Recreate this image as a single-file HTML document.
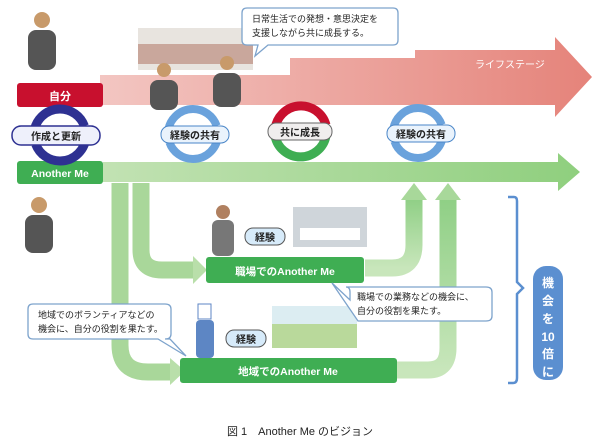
<!DOCTYPE html>
<html><head><meta charset="utf-8"><style>
html,body{margin:0;padding:0;background:#fff;}
svg{display:block;font-family:"Liberation Sans","Noto Sans CJK JP",sans-serif;}
</style></head><body>
<svg width="600" height="446" viewBox="0 0 600 446" xmlns="http://www.w3.org/2000/svg">
<defs>
<linearGradient id="pk" x1="0" x2="1"><stop offset="0" stop-color="#f3c6c2"/><stop offset="1" stop-color="#e5837a"/></linearGradient>
<linearGradient id="gr" x1="0" x2="1"><stop offset="0" stop-color="#c2e2b3"/><stop offset="1" stop-color="#8fcf7e"/></linearGradient>
<linearGradient id="gv" x1="0" x2="0" y1="0" y2="1"><stop offset="0" stop-color="#8fcf85"/><stop offset="1" stop-color="#c8e6bb"/></linearGradient>
</defs>
<polygon points="100,75 290,75 290,58 415,58 415,50 555,50 555,37 592,77 555,117 555,105 100,105" fill="url(#pk)"/>
<text x="475" y="68" fill="#fff" font-size="10">ライフステージ</text>
<rect x="138" y="28" width="115" height="42" fill="#e8e4df"/>
<rect x="138" y="44" width="115" height="20" fill="#c9a79c"/>
<polygon points="103,162 558,162 558,153 580,172 558,191 558,182 103,182" fill="url(#gr)"/>
<path d="M120,183 V345 Q120,372 148,372 H172" fill="none" stroke="#a9d79a" stroke-width="17"/>
<polygon points="170,358 185,371 170,385" fill="#b9dfaa"/>
<path d="M141,183 V250 Q141,270 162,270 H196" fill="none" stroke="#a9d79a" stroke-width="17"/>
<polygon points="193,256 207,270 193,284" fill="#b9dfaa"/>
<path d="M365,268 H392 Q414,268 414,245 V198" fill="none" stroke="url(#gv)" stroke-width="17"/>
<polygon points="401,200 414,183 427,200" fill="#a8d89a"/>
<path d="M397,370 H428 Q448,370 448,348 V198" fill="none" stroke="url(#gv)" stroke-width="17"/>
<polygon points="435,200 448,183 461,200" fill="#a8d89a"/>
<rect x="17" y="83" width="86" height="24" rx="3" fill="#c8102e"/>
<text x="60" y="100" fill="#fff" font-size="11" font-weight="bold" text-anchor="middle">自分</text>
<rect x="17" y="161" width="86" height="23" rx="3" fill="#3fae53"/>
<text x="60" y="177" fill="#fff" font-size="10.5" font-weight="bold" text-anchor="middle">Another Me</text>
<rect x="206" y="257" width="158" height="26" rx="3" fill="#3fae53"/>
<text x="285" y="275" fill="#fff" font-size="10.5" font-weight="bold" text-anchor="middle">職場でのAnother Me</text>
<rect x="180" y="358" width="217" height="25" rx="3" fill="#3fae53"/>
<text x="288" y="375" fill="#fff" font-size="10.5" font-weight="bold" text-anchor="middle">地域でのAnother Me</text>
<circle cx="60" cy="135" r="26" fill="none" stroke="#2e3192" stroke-width="9" stroke-dasharray="72 10"/>
<rect x="12" y="126" width="88" height="19" rx="9" fill="#eef0fb" stroke="#2e3192" stroke-width="1.5"/>
<text x="56" y="140" font-size="10" font-weight="bold" text-anchor="middle" fill="#222">作成と更新</text>
<circle cx="193" cy="134" r="25" fill="none" stroke="#6aa2dc" stroke-width="8" stroke-dasharray="70 8.5"/>
<rect x="161" y="126" width="68" height="17" rx="8" fill="#eaf3fc" stroke="#4a86c8" stroke-width="1"/>
<text x="195" y="139" font-size="10" font-weight="bold" text-anchor="middle" fill="#222">経験の共有</text>
<path d="M275,130 A26,26 0 0 1 326,125" fill="none" stroke="#c8102e" stroke-width="9"/>
<path d="M326,136 A26,26 0 0 1 275,136" fill="none" stroke="#3fae53" stroke-width="9"/>
<rect x="268" y="123" width="64" height="17" rx="8" fill="#f0eeee" stroke="#666" stroke-width="1"/>
<text x="300" y="136" font-size="10" font-weight="bold" text-anchor="middle" fill="#222">共に成長</text>
<circle cx="418" cy="133" r="25" fill="none" stroke="#6aa2dc" stroke-width="8" stroke-dasharray="70 8.5"/>
<rect x="387" y="125" width="68" height="17" rx="8" fill="#eaf3fc" stroke="#4a86c8" stroke-width="1"/>
<text x="421" y="138" font-size="10" font-weight="bold" text-anchor="middle" fill="#222">経験の共有</text>
<g fill="#555"><rect x="28" y="30" width="28" height="40" rx="8"/><circle cx="42" cy="20" r="8" fill="#c89a6a"/>
<rect x="150" y="80" width="28" height="30" rx="8"/><circle cx="164" cy="70" r="7" fill="#c89a6a"/>
<rect x="213" y="73" width="28" height="34" rx="8"/><circle cx="227" cy="63" r="7" fill="#c89a6a"/>
<rect x="25" y="215" width="28" height="38" rx="8"/><circle cx="39" cy="205" r="8" fill="#c89a6a"/>
<rect x="212" y="220" width="22" height="36" rx="6" fill="#777"/><circle cx="223" cy="212" r="7" fill="#b08060"/></g>
<rect x="196" y="320" width="18" height="38" rx="4" fill="#5d86c4"/><rect x="198" y="304" width="13" height="15" fill="#fff" stroke="#5d86c4"/>
<rect x="245" y="228" width="40" height="17" rx="8" fill="#d7ebfa" stroke="#555"/>
<text x="265" y="241" font-size="10" font-weight="bold" text-anchor="middle" fill="#222">経験</text>
<rect x="226" y="330" width="40" height="17" rx="8" fill="#d7ebfa" stroke="#555"/>
<text x="246" y="343" font-size="10" font-weight="bold" text-anchor="middle" fill="#222">経験</text>
<rect x="293" y="207" width="74" height="40" fill="#cfd5da"/><rect x="300" y="228" width="60" height="12" fill="#fff"/>
<rect x="272" y="306" width="85" height="42" fill="#b9d99b"/><rect x="272" y="306" width="85" height="18" fill="#dcedf2"/>
<path d="M247,8 H393 Q398,8 398,13 V40 Q398,45 393,45 H268 L255,56 L258,45 H247 Q242,45 242,40 V13 Q242,8 247,8Z" fill="#fff" stroke="#7da3cc" stroke-width="1.3"/>
<text x="252" y="22" font-size="9" fill="#222">日常生活での発想・意思決定を</text>
<text x="252" y="36" font-size="9" fill="#222">支援しながら共に成長する。</text>
<path d="M346,287 H486 Q492,287 492,292 V316 Q492,321 486,321 H358 L332,283 L350,300 V292 Q350,287 346,287Z" fill="#fff" stroke="#7da3cc" stroke-width="1.3"/>
<text x="357" y="300" font-size="9" fill="#222">職場での業務などの機会に、</text>
<text x="357" y="314" font-size="9" fill="#222">自分の役割を果たす。</text>
<path d="M33,304 H165 Q171,304 171,309 V334 Q171,339 165,339 H170 L186,356 L158,339 H33 Q28,339 28,334 V309 Q28,304 33,304Z" fill="#fff" stroke="#7da3cc" stroke-width="1.3"/>
<text x="38" y="318" font-size="9" fill="#222">地域でのボランティアなどの</text>
<text x="38" y="332" font-size="9" fill="#222">機会に、自分の役割を果たす。</text>
<path d="M508,197 H514 Q517,197 517,201 V282 L523,288 L517,294 V378 Q517,383 513,383 H508" fill="none" stroke="#5b8fd0" stroke-width="2.5"/>
<rect x="533" y="266" width="30" height="114" rx="13" fill="#5b8fd0"/>
<g fill="#fff" font-size="12" font-weight="bold" text-anchor="middle">
<text x="548" y="287">機</text><text x="548" y="305">会</text><text x="548" y="323">を</text><text x="548" y="341">10</text><text x="548" y="358">倍</text><text x="548" y="376">に</text></g>
<text x="300" y="435" font-size="11" text-anchor="middle" fill="#222">図 1　Another Me のビジョン</text>
</svg>
</body></html>
